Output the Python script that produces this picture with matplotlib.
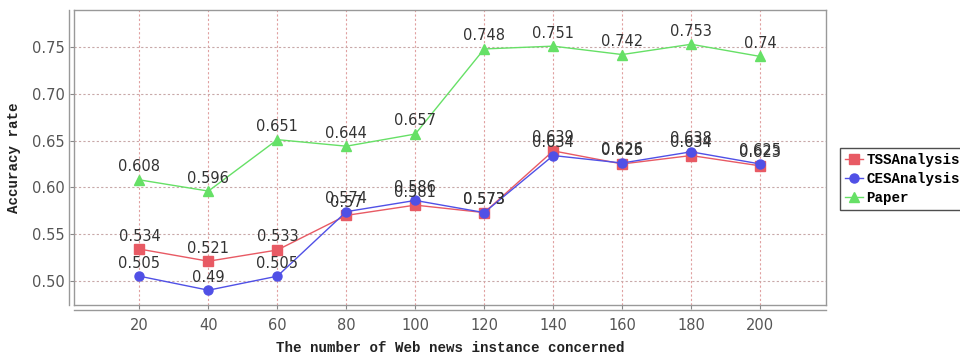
import matplotlib
matplotlib.use("Agg")
import matplotlib.pyplot as plt
from matplotlib.lines import Line2D

x_vals = [20, 40, 60, 80, 100, 120, 140, 160, 180, 200]
tss = [0.534, 0.521, 0.533, 0.570, 0.581, 0.573, 0.639, 0.625, 0.634, 0.623]
ces = [0.505, 0.490, 0.505, 0.574, 0.586, 0.573, 0.634, 0.626, 0.638, 0.625]
paper = [0.608, 0.596, 0.651, 0.644, 0.657, 0.748, 0.751, 0.742, 0.753, 0.740]
series_names = ["TSSAnalysis", "CESAnalysis", "Paper"]
y_ticks = [0.50, 0.55, 0.60, 0.65, 0.70, 0.75]

fig = plt.figure(figsize=(9.6, 3.62), dpi=100)
ax = fig.add_axes([0.077, 0.157, 0.783, 0.815])

colors = ["#e85a64", "#5050e6", "#66e066"]
markers = ["s", "o", "^"]
data = [tss, ces, paper]
for vals, c, m, name in zip(data, colors, markers, series_names):
    ax.plot(x_vals, vals, color=c, marker=m, markersize=6.5, linewidth=1.0,
            label=name, zorder=3)
    for xv, yv in zip(x_vals, vals):
        ax.annotate(f"{yv:g}", (xv, yv), xytext=(0, 4), textcoords="offset points",
                    ha="center", va="bottom", fontsize=10.5, color="#333333",
                    zorder=4)

ax.set_xlim(1, 219)
ax.set_ylim(0.474, 0.7895)
ax.set_xticks(x_vals)
ax.set_yticks(y_ticks)
ax.set_yticklabels([f"{v:.2f}" for v in y_ticks])
ax.tick_params(axis="both", colors="#888888", labelcolor="#555555", labelsize=10.5,
               length=3, direction="out")
ax.tick_params(axis="x", pad=6)

for xv in x_vals:
    ax.axvline(xv, color="#e0a0a0", linestyle=(0, (2, 2)), linewidth=0.8, zorder=1)
for yv in y_ticks:
    ax.axhline(yv, color="#c8a8a8", linestyle=(0, (2, 2)), linewidth=0.8, zorder=1)

for s in ax.spines.values():
    s.set_color("#999999")
    s.set_linewidth(1.0)

# offset axis lines (JFreeChart style)
ax.add_line(Line2D([-0.006, -0.006], [-0.0, 1.0], transform=ax.transAxes,
                   color="#999999", linewidth=1.0, clip_on=False))
ax.add_line(Line2D([0.0, 1.0], [-0.016, -0.016], transform=ax.transAxes,
                   color="#999999", linewidth=1.0, clip_on=False))

font_lbl = dict(family="Liberation Mono", weight="bold", size=10.2, color="#222222")
ax.set_xlabel("The number of Web news instance concerned", fontdict=font_lbl, labelpad=6)
ax.set_ylabel("Accuracy rate", fontdict=font_lbl, labelpad=8)

leg = fig.legend(loc="upper left", bbox_to_anchor=(0.875, 0.592), frameon=True,
                 fancybox=False, edgecolor="#222222",
                 prop=dict(family="Liberation Mono", weight="bold", size=10.2),
                 handlelength=1.3, handletextpad=0.2, borderpad=0.35,
                 labelspacing=0.35, borderaxespad=0)
leg.get_frame().set_linewidth(1.0)

fig.savefig("out.png", dpi=100)
